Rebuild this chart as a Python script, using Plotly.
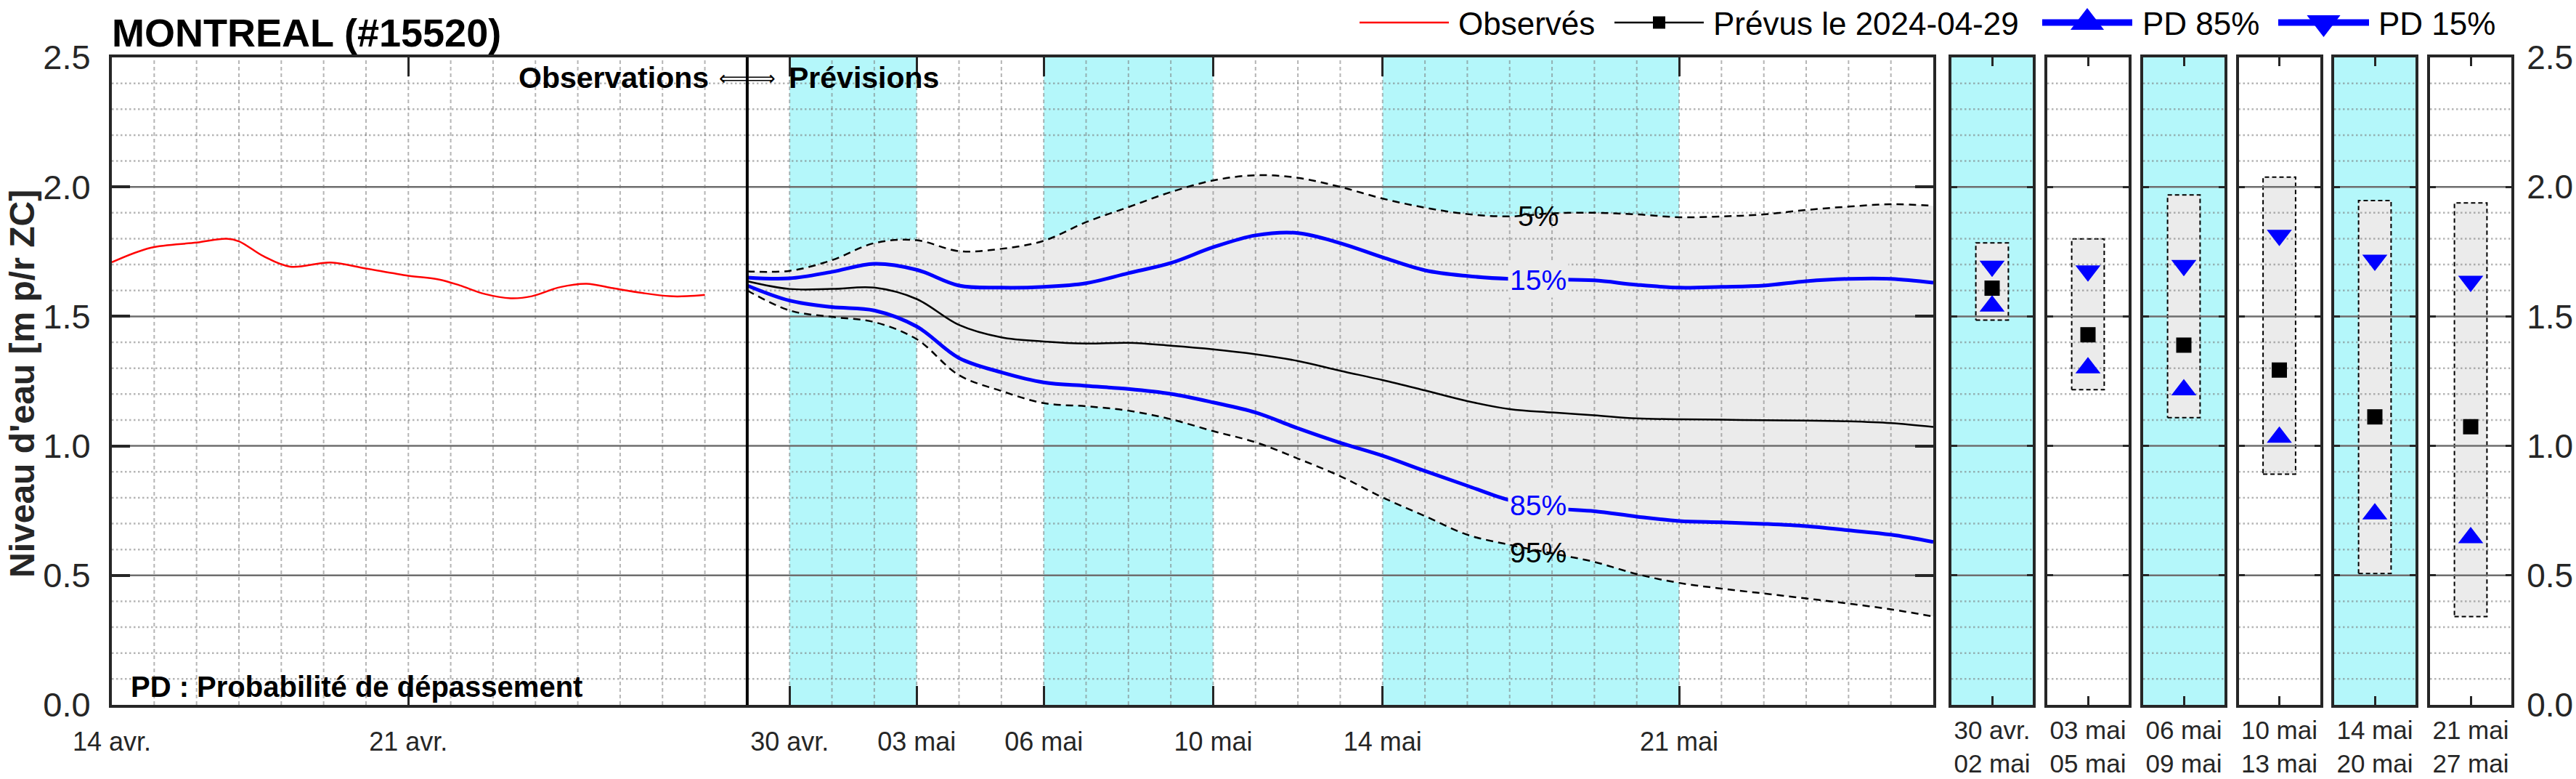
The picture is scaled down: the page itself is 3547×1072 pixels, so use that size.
import plotly.graph_objects as go
import pandas as pd

W, H = 3547, 1072

# ---------------- data ----------------
obs_time = ["2024-04-14 00:00", "2024-04-14 22:00", "2024-04-16 00:00", "2024-04-16 17:00",
            "2024-04-17 00:00", "2024-04-17 14:00", "2024-04-18 05:00", "2024-04-19 04:00",
            "2024-04-20 00:00", "2024-04-21 00:00", "2024-04-21 17:00", "2024-04-22 05:00",
            "2024-04-22 19:00", "2024-04-23 10:00", "2024-04-23 22:00", "2024-04-24 14:00",
            "2024-04-25 05:00", "2024-04-25 19:00", "2024-04-26 13:00", "2024-04-27 04:00",
            "2024-04-27 14:00", "2024-04-28 00:00"]
obs_level = [1.709, 1.765, 1.785, 1.800, 1.790, 1.732, 1.692, 1.708, 1.685, 1.657, 1.643, 1.620,
             1.587, 1.570, 1.578, 1.613, 1.626, 1.610, 1.590, 1.578, 1.578, 1.583]

fc_start = "2024-04-29"
fc_p05 = [1.674, 1.676, 1.717, 1.783, 1.794, 1.752, 1.761, 1.792, 1.864, 1.922, 1.980, 2.025,
          2.045, 2.035, 2.000, 1.955, 1.920, 1.895, 1.886, 1.898, 1.900, 1.894, 1.883, 1.886,
          1.894, 1.911, 1.924, 1.933, 1.927]
fc_p15 = [1.650, 1.647, 1.672, 1.703, 1.680, 1.619, 1.611, 1.614, 1.628, 1.667, 1.706, 1.767,
          1.813, 1.822, 1.783, 1.728, 1.678, 1.656, 1.645, 1.643, 1.639, 1.622, 1.611, 1.614,
          1.619, 1.636, 1.645, 1.645, 1.630]
fc_med = [1.636, 1.606, 1.606, 1.611, 1.567, 1.467, 1.419, 1.403, 1.395, 1.398, 1.387, 1.373,
          1.354, 1.328, 1.290, 1.254, 1.214, 1.173, 1.142, 1.129, 1.118, 1.106, 1.103, 1.101,
          1.099, 1.098, 1.095, 1.088, 1.073]
fc_p85 = [1.619, 1.561, 1.536, 1.523, 1.461, 1.339, 1.284, 1.245, 1.232, 1.220, 1.201, 1.168,
          1.129, 1.068, 1.012, 0.962, 0.903, 0.846, 0.790, 0.760, 0.748, 0.727, 0.710, 0.705,
          0.699, 0.690, 0.674, 0.657, 0.629]
fc_p95 = [1.600, 1.523, 1.498, 1.478, 1.412, 1.273, 1.212, 1.165, 1.153, 1.136, 1.103, 1.057,
          1.014, 0.951, 0.883, 0.801, 0.729, 0.657, 0.618, 0.585, 0.552, 0.505, 0.471, 0.449,
          0.430, 0.411, 0.391, 0.369, 0.341]
fc_time = [d.strftime("%Y-%m-%d") for d in pd.date_range(fc_start, periods=len(fc_med), freq="D")]

x_range = ["2024-04-14", "2024-05-27"]
tick_dates = ["2024-04-14", "2024-04-21", "2024-04-30", "2024-05-03", "2024-05-06",
              "2024-05-10", "2024-05-14", "2024-05-21"]
tick_labels = ["14 avr.", "21 avr.", "30 avr.", "03 mai", "06 mai", "10 mai", "14 mai", "21 mai"]
y_ticks = [0.0, 0.5, 1.0, 1.5, 2.0, 2.5]

period_start = ["2024-04-30", "2024-05-03", "2024-05-06", "2024-05-10", "2024-05-14", "2024-05-21"]
period_end = ["2024-05-02", "2024-05-05", "2024-05-09", "2024-05-13", "2024-05-20", "2024-05-27"]
period_labels = ["30 avr.<br>02 mai", "03 mai<br>05 mai", "06 mai<br>09 mai",
                 "10 mai<br>13 mai", "14 mai<br>20 mai", "21 mai<br>27 mai"]
period_hi = [1.784, 1.799, 1.969, 2.038, 1.947, 1.938]
period_lo = [1.486, 1.217, 1.109, 0.891, 0.507, 0.341]
period_p15 = [1.694, 1.676, 1.697, 1.813, 1.717, 1.636]
period_med = [1.609, 1.429, 1.389, 1.293, 1.112, 1.074]
period_p85 = [1.540, 1.301, 1.216, 1.033, 0.737, 0.645]

# ---------------- styles ----------------
FONT = "Liberation Sans, Arial, Helvetica, sans-serif"
CYAN = "#b4f7fa"
BAND = "#ebebeb"
AX = "#262626"
BLUE = "#0000ff"
MINOR = "rgba(120,120,120,0.55)"
MAJOR = "#6e6e6e"


def xf(px):
    return px / W


def yf(py):
    return 1 - py / H


MAIN_X = (154, 2662)
PLOT_Y = (79, 970)
PANEL_X0 = [2687, 2819, 2951, 3082.5, 3214, 3346]
PANEL_W = 112
y_dom = [yf(PLOT_Y[1]), yf(PLOT_Y[0])]

fig = go.Figure()

# ---------- main subplot ----------
fig.add_trace(go.Scatter(x=fc_time, y=fc_p95, mode="lines", line=dict(width=0, shape="spline"),
                         showlegend=False, hoverinfo="skip", xaxis="x", yaxis="y"))
fig.add_trace(go.Scatter(x=fc_time, y=fc_p05, mode="lines", line=dict(width=0, shape="spline"),
                         fill="tonexty", fillcolor=BAND, showlegend=False, hoverinfo="skip",
                         xaxis="x", yaxis="y"))

# grid (drawn over the band, like the original)
days = [d.strftime("%Y-%m-%d") for d in pd.date_range(x_range[0], x_range[1], freq="D")]
vx, vy = [], []
for d in days[1:-1]:
    vx += [d, d, None]
    vy += [0, 2.5, None]
fig.add_trace(go.Scatter(x=vx, y=vy, mode="lines", line=dict(color=MINOR, width=2, dash="5px,4px"),
                         showlegend=False, hoverinfo="skip", xaxis="x", yaxis="y"))
minor_lv = [round(i * 0.1, 1) for i in range(1, 25) if i % 5 != 0]
major_lv = [0.5, 1.0, 1.5, 2.0]
hx, hy = [], []
for lv in minor_lv:
    hx += [x_range[0], x_range[1], None]
    hy += [lv, lv, None]
fig.add_trace(go.Scatter(x=hx, y=hy, mode="lines", line=dict(color=MINOR, width=2.5, dash="2.5px,3.5px"),
                         showlegend=False, hoverinfo="skip", xaxis="x", yaxis="y"))
mx, my = [], []
for lv in major_lv:
    mx += [x_range[0], x_range[1], None]
    my += [lv, lv, None]
fig.add_trace(go.Scatter(x=mx, y=my, mode="lines", line=dict(color=MAJOR, width=2.5),
                         showlegend=False, hoverinfo="skip", xaxis="x", yaxis="y"))

# curves
for vals in (fc_p05, fc_p95):
    fig.add_trace(go.Scatter(x=fc_time, y=vals, mode="lines",
                             line=dict(color="black", width=2.5, dash="10px,7px", shape="spline"),
                             showlegend=False, hoverinfo="skip", xaxis="x", yaxis="y"))
for vals in (fc_p85, fc_p15):
    fig.add_trace(go.Scatter(x=fc_time, y=vals, mode="lines",
                             line=dict(color=BLUE, width=5, shape="spline"),
                             showlegend=False, hoverinfo="skip", xaxis="x", yaxis="y"))
fig.add_trace(go.Scatter(x=fc_time, y=fc_med, mode="lines",
                         line=dict(color="black", width=2.5, shape="spline"),
                         showlegend=False, hoverinfo="skip", xaxis="x", yaxis="y"))
fig.add_trace(go.Scatter(x=obs_time, y=obs_level, mode="lines",
                         line=dict(color="#ff0000", width=2.5, shape="spline"),
                         showlegend=False, hoverinfo="skip", xaxis="x", yaxis="y"))

shapes = []
for i, (s, e) in enumerate(zip(period_start, period_end)):
    if i % 2 == 0:
        x1 = (pd.Timestamp(e) + pd.Timedelta(days=1)).strftime("%Y-%m-%d")
        shapes.append(dict(type="rect", xref="x", yref="y domain", x0=s, x1=x1, y0=0, y1=1,
                           fillcolor=CYAN, line=dict(width=0), layer="below"))
shapes.append(dict(type="line", xref="x", yref="y domain", x0=fc_start, x1=fc_start, y0=0, y1=1,
                   line=dict(color="black", width=4), layer="above"))

# ---------- period panels ----------
layout_axes = {}
for k in range(6):
    n = k + 2
    xa, ya = f"x{n}", f"y{n}"
    if k % 2 == 0:
        shapes.append(dict(type="rect", xref=f"{xa} domain", yref=f"{ya} domain", x0=0, x1=1, y0=0, y1=1,
                           fillcolor=CYAN, line=dict(width=0), layer="below"))
    lo, hi = period_lo[k], period_hi[k]
    fig.add_trace(go.Scatter(x=[-0.2, 0.2, 0.2, -0.2, -0.2], y=[lo, lo, hi, hi, lo], mode="lines",
                             fill="toself", fillcolor=BAND,
                             line=dict(color="black", width=2, dash="6px,4px"),
                             showlegend=False, hoverinfo="skip", xaxis=xa, yaxis=ya))
    gx, gy = [], []
    for lv in minor_lv:
        gx += [-0.5, 0.5, None]
        gy += [lv, lv, None]
    fig.add_trace(go.Scatter(x=gx, y=gy, mode="lines", line=dict(color=MINOR, width=2.5, dash="2.5px,3.5px"),
                             showlegend=False, hoverinfo="skip", xaxis=xa, yaxis=ya))
    gx, gy = [], []
    for lv in major_lv:
        gx += [-0.5, 0.5, None]
        gy += [lv, lv, None]
    fig.add_trace(go.Scatter(x=gx, y=gy, mode="lines", line=dict(color=MAJOR, width=2.5),
                             showlegend=False, hoverinfo="skip", xaxis=xa, yaxis=ya))
    fig.add_trace(go.Scatter(x=[0], y=[period_p15[k]], mode="markers",
                             marker=dict(symbol="triangle-down", size=30, color=BLUE, line=dict(width=0)),
                             showlegend=False, hoverinfo="skip", xaxis=xa, yaxis=ya))
    fig.add_trace(go.Scatter(x=[0], y=[period_p85[k]], mode="markers",
                             marker=dict(symbol="triangle-up", size=30, color=BLUE, line=dict(width=0)),
                             showlegend=False, hoverinfo="skip", xaxis=xa, yaxis=ya))
    fig.add_trace(go.Scatter(x=[0], y=[period_med[k]], mode="markers",
                             marker=dict(symbol="square", size=21, color="black", line=dict(width=0)),
                             showlegend=False, hoverinfo="skip", xaxis=xa, yaxis=ya))
    x0 = PANEL_X0[k]
    layout_axes[f"xaxis{n}"] = dict(
        domain=[xf(x0), xf(x0 + PANEL_W)], range=[-0.5, 0.5], anchor=ya, automargin=False,
        tickmode="array", tickvals=[0], ticktext=[period_labels[k]],
        ticks="inside", ticklen=12, tickwidth=3, tickcolor=AX,
        showline=True, linecolor=AX, linewidth=4, mirror="ticks",
        showgrid=False, zeroline=False, fixedrange=True,
        tickfont=dict(family=FONT, size=35, color=AX), ticklabelstandoff=1)
    last = (k == 5)
    layout_axes[f"yaxis{n}"] = dict(
        domain=y_dom, range=[0, 2.5], anchor=xa, automargin=False,
        tickmode="array", tickvals=y_ticks, ticktext=[f"{v:.1f}" for v in y_ticks],
        showticklabels=last, side="right" if last else "left",
        ticks="inside", ticklen=8, tickwidth=3, tickcolor=AX,
        showline=True, linecolor=AX, linewidth=4, mirror="ticks",
        showgrid=False, zeroline=False, fixedrange=True,
        tickfont=dict(family=FONT, size=46, color=AX), ticklabelstandoff=8)

# ---------- manual legend (overlay axes in pixel units) ----------
leg_y = 31
legend_items = [
    (1872, 1995, "#ff0000", 2.5, None, None, 0, "Observés", 2006),
    (2223, 2346, "black", 2.5, "square", "black", 17, "Prévus le 2024-04-29", 2357),
    (2812, 2936, BLUE, 9, "triangle-up", BLUE, 40, "PD 85%", 2948),
    (3137, 3262, BLUE, 9, "triangle-down", BLUE, 40, "PD 15%", 3273),
]
annotations = []
for (a, b, col, lw, sym, mcol, msz, label, tx) in legend_items:
    fig.add_trace(go.Scatter(x=[a, b], y=[leg_y, leg_y], mode="lines", line=dict(color=col, width=lw),
                             showlegend=False, hoverinfo="skip", xaxis="x8", yaxis="y8"))
    if sym:
        fig.add_trace(go.Scatter(x=[(a + b) / 2], y=[leg_y], mode="markers",
                                 marker=dict(symbol=sym, size=msz, color=mcol, line=dict(width=0)),
                                 showlegend=False, hoverinfo="skip", xaxis="x8", yaxis="y8"))
    annotations.append(dict(xref="paper", yref="paper", x=xf(tx), y=yf(33), xanchor="left",
                            yanchor="middle", text=label, showarrow=False,
                            font=dict(family=FONT, size=44, color="black")))

# ---------- text annotations ----------
annotations += [
    dict(xref="paper", yref="paper", x=xf(152), y=yf(45), xanchor="left", yanchor="middle",
         text="<b>MONTREAL (#15520)</b>", showarrow=False, font=dict(family=FONT, size=54, color="black")),
    dict(xref="paper", yref="paper", x=xf(30), y=yf(528), xanchor="center", yanchor="middle",
         text="<b>Niveau d'eau [m p/r ZC]</b>", textangle=-90, showarrow=False,
         font=dict(family=FONT, size=48, color=AX)),
    dict(xref="paper", yref="paper", x=xf(978), y=yf(107), xanchor="right", yanchor="middle",
         text="<b>Observations</b>", showarrow=False, font=dict(family=FONT, size=41, color="black")),
    dict(xref="paper", yref="paper", x=xf(1031), y=yf(107), xanchor="right", yanchor="middle",
         text="\u27f8", showarrow=False, font=dict(family="DejaVu Sans", size=27, color="black")),
    dict(xref="paper", yref="paper", x=xf(1027), y=yf(107), xanchor="left", yanchor="middle",
         text="\u27f9", showarrow=False, font=dict(family="DejaVu Sans", size=27, color="black")),
    dict(xref="paper", yref="paper", x=xf(1084), y=yf(107), xanchor="left", yanchor="middle",
         text="<b>Prévisions</b>", showarrow=False, font=dict(family=FONT, size=41, color="black")),
    dict(xref="paper", yref="paper", x=xf(178), y=yf(945), xanchor="left", yanchor="middle",
         text="<b>PD : Probabilité de dépassement</b>", showarrow=False,
         font=dict(family=FONT, size=40, color="black")),
]
lab_x = "2024-05-17 16:00"
for txt, yv, col, bg in [("5%", 1.888, "black", None), ("15%", 1.639, BLUE, BAND),
                         ("85%", 0.769, BLUE, BAND), ("95%", 0.589, "black", None)]:
    d = dict(xref="x", yref="y", x=lab_x, y=yv, xanchor="center", yanchor="middle", text=txt,
             showarrow=False, font=dict(family=FONT, size=39, color=col), borderpad=2)
    if bg:
        d["bgcolor"] = bg
    annotations.append(d)

fig.update_layout(
    width=W, height=H, autosize=False,
    margin=dict(l=0, r=0, t=0, b=0, pad=0, autoexpand=False),
    paper_bgcolor="white", plot_bgcolor="rgba(0,0,0,0)",
    showlegend=False,
    font=dict(family=FONT, color=AX),
    xaxis=dict(domain=[xf(MAIN_X[0]), xf(MAIN_X[1])], type="date", range=x_range, anchor="y",
               automargin=False,
               tickmode="array", tickvals=tick_dates, ticktext=tick_labels,
               ticks="inside", ticklen=26, tickwidth=3, tickcolor=AX,
               showline=True, linecolor=AX, linewidth=4, mirror="ticks",
               showgrid=False, zeroline=False, fixedrange=True,
               tickfont=dict(family=FONT, size=36, color=AX), ticklabelstandoff=16),
    yaxis=dict(domain=y_dom, range=[0, 2.5], anchor="x", automargin=False,
               tickmode="array", tickvals=y_ticks, ticktext=[f"{v:.1f}" for v in y_ticks],
               ticks="inside", ticklen=25, tickwidth=4, tickcolor=AX,
               showline=True, linecolor=AX, linewidth=4, mirror="ticks",
               showgrid=False, zeroline=False, fixedrange=True,
               tickfont=dict(family=FONT, size=47, color=AX), ticklabelstandoff=16),
    xaxis8=dict(domain=[0, 1], range=[0, W], anchor="y8", visible=False, fixedrange=True, automargin=False),
    yaxis8=dict(domain=[0, 1], range=[H, 0], anchor="x8", visible=False, fixedrange=True, automargin=False),
    shapes=shapes,
    annotations=annotations,
)
fig.update_layout(**layout_axes)

fig.write_html("out.html")
